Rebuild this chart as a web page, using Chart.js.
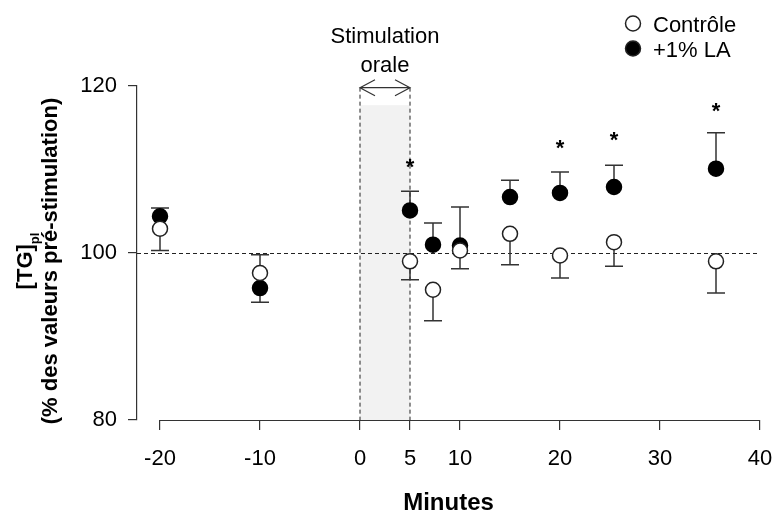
<!DOCTYPE html>
<html>
<head>
<meta charset="utf-8">
<script src="https://cdn.jsdelivr.net/npm/chart.js@4"></script>
<style>
  body { margin: 0; background: #fff; }
  #wrap { width: 774px; height: 519px; }
</style>
</head>
<body>
<div id="wrap"><canvas id="myChart"></canvas></div>
<script>
// values
const minutes = [-20, -10, 5, 7.3, 10, 15, 20, 25.4, 35.6];
const controle = [102.9, 97.6, 99.0, 95.6, 100.3, 102.3, 99.7, 101.3, 99.0];
const controleErr = [-2.6, 2.2, -2.2, -3.7, -2.2, -3.7, -2.7, -2.9, -3.8]; // sign = direction of the bar
const la = [104.4, 95.8, 105.1, 101.0, 100.9, 106.7, 107.2, 107.9, 110.1];
const laErr = [1.0, -1.7, 2.3, 2.6, 4.6, 2.0, 2.5, 2.6, 4.3];
const starMinutes = [5, 20, 25.4, 35.6];
const starLevels = [110.9, 113.2, 114.1, 117.6];
const xTicks = [-20, -10, 0, 5, 10, 20, 30, 40];
const yTicks = [80, 100, 120];
const stimWindow = [0, 5];
const seriesNames = ['Contrôle', '+1% LA'];

const FONT = "'Liberation Sans', Arial, sans-serif";
const INK = '#222';

function errorBars(ctx, xs, ys, errs, sx, sy) {
    ctx.strokeStyle = '#333';
    ctx.lineWidth = 1.5;
    xs.forEach((m, i) => {
        const px = sx.getPixelForValue(m);
        const y0 = sy.getPixelForValue(ys[i]);
        const y1 = sy.getPixelForValue(ys[i] + errs[i]);
        ctx.beginPath();
        ctx.moveTo(px, y0);
        ctx.lineTo(px, y1);
        ctx.moveTo(px - 9, y1);
        ctx.lineTo(px + 9, y1);
        ctx.stroke();
    });
}

const decor = {
    id: 'decor',
    beforeDatasetsDraw(chart) {
        const ctx = chart.ctx;
        const sx = chart.scales.x, sy = chart.scales.y;
        const area = chart.chartArea;
        const x0 = sx.getPixelForValue(stimWindow[0]);
        const x1 = sx.getPixelForValue(stimWindow[1]);
        const yBottom = sy.getPixelForValue(80);
        const yArrow = sy.getPixelForValue(119.8);
        ctx.save();
        // grey window
        ctx.fillStyle = '#f2f2f2';
        ctx.fillRect(x0, sy.getPixelForValue(117.7), x1 - x0, yBottom - sy.getPixelForValue(117.7));
        // dashed lines
        ctx.setLineDash([4, 3]);
        ctx.strokeStyle = INK;
        ctx.lineWidth = 1;
        ctx.beginPath();
        ctx.moveTo(x0, yArrow); ctx.lineTo(x0, yBottom);
        ctx.moveTo(x1, yArrow); ctx.lineTo(x1, yBottom);
        const y100 = Math.round(sy.getPixelForValue(100)) + 0.5;
        ctx.moveTo(area.left, y100); ctx.lineTo(sx.getPixelForValue(40), y100);
        ctx.stroke();
        ctx.setLineDash([]);
        // double arrow
        ctx.strokeStyle = '#333';
        ctx.lineWidth = 1.2;
        ctx.beginPath();
        ctx.moveTo(x0, yArrow); ctx.lineTo(x1, yArrow);
        ctx.moveTo(x0 + 15, yArrow - 8); ctx.lineTo(x0, yArrow); ctx.lineTo(x0 + 15, yArrow + 8);
        ctx.moveTo(x1 - 15, yArrow - 8); ctx.lineTo(x1, yArrow); ctx.lineTo(x1 - 15, yArrow + 8);
        ctx.stroke();
        // error bars
        errorBars(ctx, minutes, la, laErr, sx, sy);
        errorBars(ctx, minutes, controle, controleErr, sx, sy);
        ctx.restore();
    },
    afterDraw(chart) {
        const ctx = chart.ctx;
        const sx = chart.scales.x, sy = chart.scales.y;
        const area = chart.chartArea;
        ctx.save();
        // x axis line, from first to last tick
        ctx.strokeStyle = '#333';
        ctx.lineWidth = 1.2;
        ctx.beginPath();
        ctx.moveTo(sx.getPixelForValue(xTicks[0]), area.bottom + 0.5);
        ctx.lineTo(sx.getPixelForValue(xTicks[xTicks.length - 1]), area.bottom + 0.5);
        ctx.stroke();

        ctx.fillStyle = '#000';
        // stimulation label
        const xc = (sx.getPixelForValue(stimWindow[0]) + sx.getPixelForValue(stimWindow[1])) / 2;
        ctx.font = '22px ' + FONT;
        ctx.textAlign = 'center';
        ctx.textBaseline = 'alphabetic';
        ctx.fillText('Stimulation', xc, 43);
        ctx.fillText('orale', xc, 72);

        // stars
        ctx.font = 'bold 22px ' + FONT;
        starMinutes.forEach((m, i) => {
            ctx.fillText('*', sx.getPixelForValue(m), sy.getPixelForValue(starLevels[i]) + 12);
        });

        // legend
        ctx.textAlign = 'left';
        ctx.font = '22px ' + FONT;
        ctx.lineWidth = 1.5;
        ctx.strokeStyle = INK;
        ctx.beginPath(); ctx.arc(633, 23.5, 7.5, 0, Math.PI * 2);
        ctx.fillStyle = '#fff'; ctx.fill(); ctx.stroke();
        ctx.beginPath(); ctx.arc(633, 48.5, 7.5, 0, Math.PI * 2);
        ctx.fillStyle = '#000'; ctx.fill(); ctx.stroke();
        ctx.fillText(seriesNames[0], 653, 32);
        ctx.fillText(seriesNames[1], 653, 57);

        // y title, two rotated lines
        const yc = (area.top + area.bottom) / 2 + 8;
        ctx.save();
        ctx.translate(32, yc);
        ctx.rotate(-Math.PI / 2);
        ctx.font = 'bold 22px ' + FONT;
        const wMain = ctx.measureText('[TG]').width;
        ctx.font = 'bold 13px ' + FONT;
        const wSub = ctx.measureText('pl').width;
        const start = -(wMain + wSub) / 2;
        ctx.font = 'bold 22px ' + FONT;
        ctx.fillText('[TG]', start, 0);
        ctx.font = 'bold 13px ' + FONT;
        ctx.fillText('pl', start + wMain, 7);
        ctx.restore();
        ctx.save();
        ctx.translate(57, yc);
        ctx.rotate(-Math.PI / 2);
        ctx.font = 'bold 22px ' + FONT;
        ctx.textAlign = 'center';
        ctx.fillText('(% des valeurs pré-stimulation)', 0, 0);
        ctx.restore();

        ctx.restore();
    }
};

const ctx = document.getElementById('myChart').getContext('2d');
const myChart = new Chart(ctx, {
    type: 'scatter',
    data: {
        datasets: [
            {
                label: seriesNames[0],
                data: minutes.map((m, i) => ({ x: m, y: controle[i] })),
                pointRadius: 7.5,
                pointBackgroundColor: '#fff',
                pointBorderColor: INK,
                pointBorderWidth: 1.5,
                clip: false,
            },
            {
                label: seriesNames[1],
                data: minutes.map((m, i) => ({ x: m, y: la[i] })),
                pointRadius: 7.5,
                pointBackgroundColor: '#000',
                pointBorderColor: '#000',
                pointBorderWidth: 1.5,
                clip: false,
            },
        ],
    },
    options: {
        responsive: true,
        maintainAspectRatio: false,
        animation: false,
        layout: { padding: { top: 86, right: 14, left: 0, bottom: 0 } },
        plugins: {
            legend: { display: false },
            tooltip: { enabled: false },
        },
        scales: {
            x: {
                type: 'linear',
                min: -22.3,
                max: 40,
                afterBuildTicks: s => { s.ticks = xTicks.map(v => ({ value: v })); },
                afterFit: s => { s.height = 99; s.paddingLeft = 0; s.paddingRight = 0; },
                ticks: {
                    autoSkip: false,
                    maxRotation: 0,
                    color: '#000',
                    padding: 16,
                    font: { family: FONT, size: 22 },
                },
                grid: {
                    drawOnChartArea: false,
                    tickLength: 10,
                    color: '#333',
                    lineWidth: 1.2,
                },
                border: { display: false },
                title: {
                    display: true,
                    text: 'Minutes',
                    color: '#000',
                    font: { family: FONT, size: 24, weight: 'bold' },
                    padding: { top: 0, bottom: 1 },
                },
            },
            y: {
                min: 80,
                max: 120,
                afterBuildTicks: s => { s.ticks = yTicks.map(v => ({ value: v })); },
                afterFit: s => { s.width = 137; },
                ticks: {
                    color: '#000',
                    padding: 11,
                    font: { family: FONT, size: 22 },
                },
                grid: {
                    drawOnChartArea: false,
                    tickLength: 9,
                    color: '#333',
                    lineWidth: 1.2,
                },
                border: { display: true, color: '#333', width: 1.2 },
            },
        },
    },
    plugins: [decor],
});
</script>
</body>
</html>
